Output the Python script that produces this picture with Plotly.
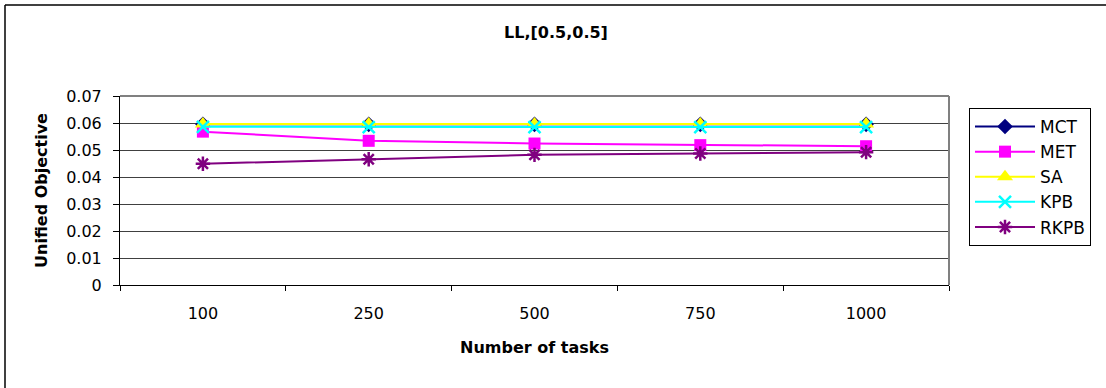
import plotly.graph_objects as go

categories = ["100", "250", "500", "750", "1000"]
mct = [0.0595, 0.0595, 0.0595, 0.0595, 0.0595]
met = [0.0568, 0.0534, 0.0524, 0.0518, 0.0514]
sa = [0.0596, 0.0596, 0.0596, 0.0596, 0.0596]
kpb = [0.0586, 0.0585, 0.0585, 0.0585, 0.0585]
rkpb = [0.0449, 0.0466, 0.0482, 0.0487, 0.0492]

series = [
    ("MCT", mct, "#000080", "diamond", 12),
    ("MET", met, "#FF00FF", "square", 12),
    ("SA", sa, "#FFFF00", "triangle-up", 14),
    ("KPB", kpb, "#00FFFF", "x-thin-open", 12),
    ("RKPB", rkpb, "#800080", "asterisk-open", 12),
]

fig = go.Figure()
for name, vals, color, sym, size in series:
    mk = dict(symbol=sym, size=size, color=color)
    if "open" in sym:
        mk["line"] = dict(color=color, width=2.5)
    fig.add_trace(go.Scatter(
        x=categories, y=vals, name=name, mode="lines+markers",
        line=dict(color=color, width=2), marker=mk,
    ))

FONT = "DejaVu Sans, Liberation Sans, sans-serif"
fig.update_layout(
    width=1106, height=388,
    margin=dict(l=120, r=157, t=96, b=103, autoexpand=False),
    paper_bgcolor="white", plot_bgcolor="white",
    font=dict(family=FONT, size=16, color="black"),
    title=dict(text="<b>LL,[0.5,0.5]</b>", x=556 / 1106, xanchor="center",
               xref="container", yref="container",
               y=1 - 32 / 388, yanchor="middle", font=dict(size=16)),
    showlegend=True,
    legend=dict(x=969 / 1106, xanchor="left", y=1 - 108 / 388, yanchor="top",
                xref="container", yref="container",
                bordercolor="black", borderwidth=1, bgcolor="white",
                font=dict(size=17), itemwidth=60, tracegroupgap=0),
    xaxis=dict(type="category", tickson="boundaries", ticks="outside",
               ticklen=5, tickcolor="black", showline=True, linecolor="black",
               linewidth=1, showgrid=False, ticklabelstandoff=14,
               tickfont=dict(size=16),
               title=dict(text="<b>Number of tasks</b>", standoff=19,
                          font=dict(size=16)),
               automargin=False, range=[-0.5, 4.5]),
    yaxis=dict(range=[0, 0.07], dtick=0.01, ticks="outside", ticklen=6,
               tickcolor="black", showline=True, linecolor="black", linewidth=1,
               showgrid=True, gridcolor="#404040", gridwidth=1,
               tickfont=dict(size=16), ticklabelstandoff=8,
               title=dict(text="<b>Unified Objective</b>", standoff=14,
                          font=dict(size=16)),
               automargin=False, zeroline=False),
    shapes=[
        dict(type="line", xref="paper", yref="paper", x0=0, x1=1, y0=1, y1=1,
             line=dict(color="#808080", width=2)),
        dict(type="line", xref="paper", yref="paper", x0=1, x1=1, y0=0, y1=1,
             line=dict(color="#808080", width=2)),
        dict(type="line", xref="paper", yref="paper",
             x0=-115 / 829, x1=-115 / 829, y0=-200 / 189, y1=1 + 91 / 189,
             line=dict(color="#404040", width=2)),
        dict(type="line", xref="paper", yref="paper",
             x0=-115 / 829, x1=1 + 160 / 829, y0=1 + 91 / 189, y1=1 + 91 / 189,
             line=dict(color="black", width=1.5)),
    ],
)

fig.write_html("out.html")
